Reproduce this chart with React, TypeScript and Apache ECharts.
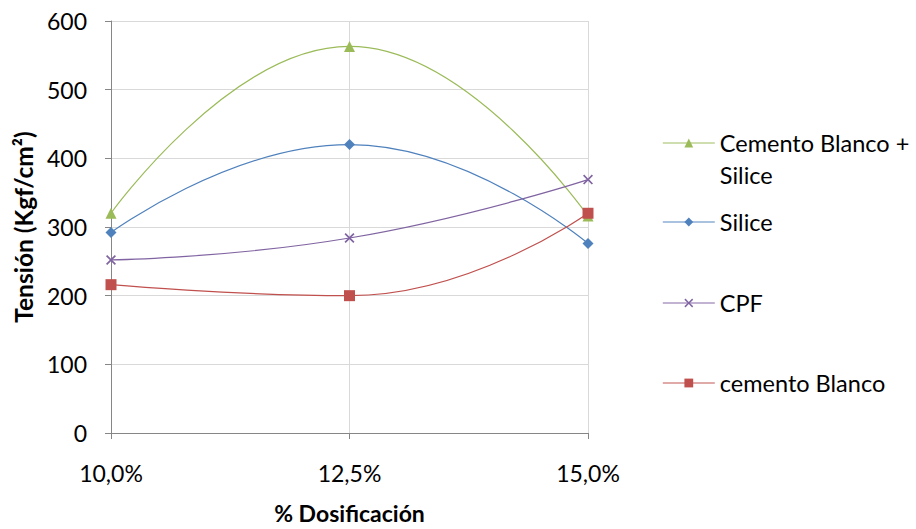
import React, { useEffect, useRef } from "react";
import * as echarts from "echarts";

// Dosage (%) on the x axis
const dosage = [10, 12.5, 15];

// Tensile strength (Kgf/cm²) per mix
const cementoBlancoSilice = [320, 563, 316];
const silice = [292, 420, 276];
const cpf = [252, 284, 369];
const cementoBlanco = [216, 200, 320];

const yTicks = { min: 0, max: 600, interval: 100 };
const xTicks = { min: 10, max: 15, interval: 2.5 };

const FONT = "Lato, 'Open Sans', sans-serif";

const crossSymbol =
  "path://M0,1.2 L1.2,0 L5,3.8 L8.8,0 L10,1.2 L6.2,5 L10,8.8 L8.8,10 L5,6.2 L1.2,10 L0,8.8 L3.8,5 Z";

const seriesDefs = [
  { name: "Cemento Blanco + Silice", data: cementoBlancoSilice, color: "#9BBB59", symbol: "triangle", size: 11 },
  { name: "Silice", data: silice, color: "#4F81BD", symbol: "diamond", size: 11 },
  { name: "CPF", data: cpf, color: "#8064A2", symbol: crossSymbol, size: 10 },
  { name: "cemento Blanco", data: cementoBlanco, color: "#C0504D", symbol: "rect", size: 11 },
];

export default function App() {
  const ref = useRef<HTMLDivElement>(null);

  useEffect(() => {
    if (!ref.current) return;
    const chart = echarts.init(ref.current, undefined, { renderer: "svg" });

    const legendText = { fontSize: 23.5, lineHeight: 28, color: "#000", fontFamily: FONT };
    const legendBase = {
      orient: "vertical" as const,
      left: 662,
      padding: 0,
      itemWidth: 52,
      itemHeight: 11,
      itemGap: 0,
      lineStyle: { opacity: 0.65, width: 1.6 },
      textStyle: legendText,
    };

    chart.setOption({
      animation: false,
      textStyle: { fontFamily: FONT },
      grid: { left: 111, top: 21, width: 477, height: 420, containLabel: false },
      xAxis: {
        type: "value",
        ...xTicks,
        name: "% Dosificación",
        nameLocation: "middle",
        nameGap: 68,
        nameTextStyle: { fontSize: 23, fontWeight: "bold", color: "#000", fontFamily: FONT },
        axisLine: { show: true, lineStyle: { color: "#868686", width: 1 } },
        axisTick: { show: true, length: 6, lineStyle: { color: "#868686" } },
        axisLabel: {
          fontSize: 23,
          color: "#000",
          margin: 28,
          fontFamily: FONT,
          formatter: (v: number) => v.toFixed(1).replace(".", ",") + "%",
        },
        splitLine: { show: true, lineStyle: { color: "#D9D9D9", width: 1 } },
      },
      yAxis: {
        type: "value",
        ...yTicks,
        name: "Tensión (Kgf/cm²)",
        nameLocation: "middle",
        nameGap: 71,
        nameTextStyle: { fontSize: 24.5, fontWeight: "bold", color: "#000", fontFamily: FONT },
        axisLine: { show: true, lineStyle: { color: "#868686", width: 1 } },
        axisTick: { show: true, length: 6, lineStyle: { color: "#868686" } },
        axisLabel: { fontSize: 23, color: "#000", margin: 24, fontFamily: FONT },
        splitLine: { show: true, lineStyle: { color: "#D9D9D9", width: 1 } },
      },
      legend: [
        {
          ...legendBase,
          top: 95,
          data: [seriesDefs[0].name],
          // leading blank line keeps the marker beside the first text line
          formatter: () => "\nCemento Blanco +\nSilice",
          textStyle: { ...legendText, lineHeight: 32 },
        },
        { ...legendBase, top: 208, data: [seriesDefs[1].name] },
        { ...legendBase, top: 289, data: [seriesDefs[2].name] },
        { ...legendBase, top: 369, data: [seriesDefs[3].name] },
      ],
      series: seriesDefs.map((s) => ({
        name: s.name,
        type: "line",
        smooth: 0.5,
        data: s.data.map((v, i) => [dosage[i], v]),
        symbol: s.symbol,
        symbolSize: s.size,
        color: s.color,
        lineStyle: { color: s.color, width: 1.2 },
        itemStyle: { color: s.color },
      })),
    });

    return () => chart.dispose();
  }, []);

  return (
    <div
      ref={ref}
      style={{ position: "absolute", left: 0, top: 0, width: 916, height: 529 }}
    />
  );
}
